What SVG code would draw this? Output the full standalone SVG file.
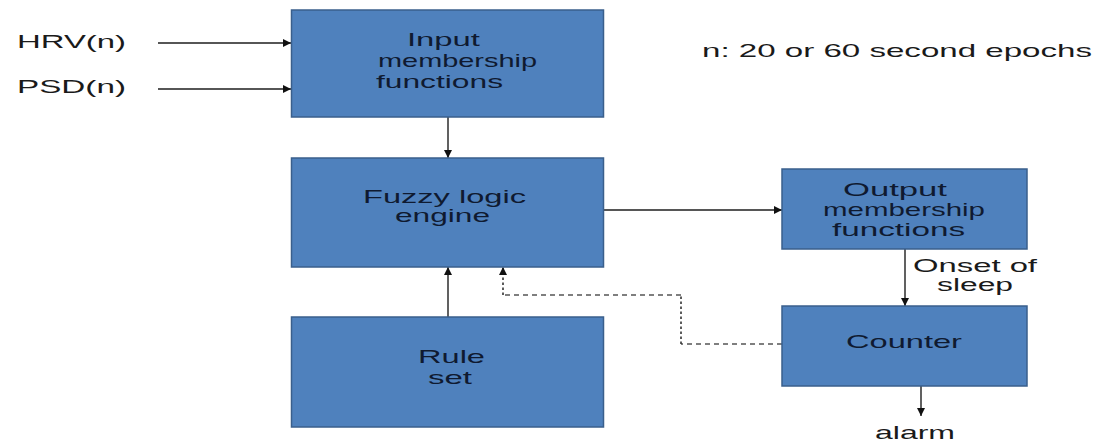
<svg xmlns="http://www.w3.org/2000/svg" width="1095" height="443" viewBox="0 0 1095 443">
  <style>
    .box { fill: #4f81bd; stroke: #3a5f8c; stroke-width: 1.5; }
    .lbl { font-family: "Liberation Sans", Arial, sans-serif; font-size: 18.5px; fill: #0f1a30; }
    .ext { font-family: "Liberation Sans", Arial, sans-serif; font-size: 19px; fill: #1a1a1a; }
    .note { font-family: "Liberation Sans", Arial, sans-serif; font-size: 17.5px; fill: #1a1a1a; }
    .wire { fill: none; stroke: #1e1e1e; stroke-width: 1.4; }
    .dashH { fill: none; stroke: #555; stroke-width: 1.4; stroke-dasharray: 5 4; }
    .dashV { fill: none; stroke: #333; stroke-width: 1.6; stroke-dasharray: 2.5 2.5; }
  </style>
  <defs>
    <marker id="arrow" viewBox="0 0 10 10" refX="10" refY="5" markerWidth="8" markerHeight="8" markerUnits="userSpaceOnUse" orient="auto">
      <path d="M0,0 L10,5 L0,10 z" fill="#111"/>
    </marker>
  </defs>
  <rect width="1095" height="443" fill="#ffffff"/>

  <!-- connectors -->
  <g id="connectors">
    <line class="wire" x1="158" y1="43" x2="291" y2="43" marker-end="url(#arrow)"/>
    <line class="wire" x1="158" y1="89" x2="291" y2="89" marker-end="url(#arrow)"/>
    <line class="wire" x1="448" y1="117" x2="448" y2="158" marker-end="url(#arrow)"/>
    <line class="wire" x1="448" y1="317" x2="448" y2="267" marker-end="url(#arrow)"/>
    <line class="wire" x1="603" y1="210" x2="782" y2="210" marker-end="url(#arrow)"/>
    <line class="wire" x1="905" y1="249" x2="905" y2="306" marker-end="url(#arrow)"/>
    <line class="wire" x1="921" y1="386" x2="921" y2="416" marker-end="url(#arrow)"/>
    <!-- dashed feedback from counter to engine -->
    <path class="dashH" d="M782,344 L681,344"/>
    <path class="dashV" d="M681,344 L681,295"/>
    <path class="dashH" d="M681,295 L503,295"/>
    <path class="dashV" d="M503,295 L503,267" marker-end="url(#arrow)"/>
  </g>

  <g id="input-membership">
    <rect class="box" x="291.5" y="10" width="312" height="107"/>
    <text class="lbl" x="407" y="46" textLength="73" lengthAdjust="spacingAndGlyphs">Input</text>
    <text class="lbl" x="378" y="67" textLength="159" lengthAdjust="spacingAndGlyphs">membership</text>
    <text class="lbl" x="376" y="88" textLength="127" lengthAdjust="spacingAndGlyphs">functions</text>
  </g>

  <g id="fuzzy-engine">
    <rect class="box" x="291.5" y="158" width="312" height="109"/>
    <text class="lbl" x="363" y="203" textLength="163" lengthAdjust="spacingAndGlyphs">Fuzzy logic</text>
    <text class="lbl" x="395" y="222" textLength="95" lengthAdjust="spacingAndGlyphs">engine</text>
  </g>

  <g id="rule-set">
    <rect class="box" x="291.5" y="317" width="312" height="110"/>
    <text class="lbl" x="418" y="363" textLength="67" lengthAdjust="spacingAndGlyphs">Rule</text>
    <text class="lbl" x="428" y="384" textLength="44" lengthAdjust="spacingAndGlyphs">set</text>
  </g>

  <g id="output-membership">
    <rect class="box" x="782" y="169" width="245" height="80"/>
    <text class="lbl" x="843" y="196" textLength="104" lengthAdjust="spacingAndGlyphs">Output</text>
    <text class="lbl" x="823" y="216" textLength="162" lengthAdjust="spacingAndGlyphs">membership</text>
    <text class="lbl" x="832" y="236" textLength="133" lengthAdjust="spacingAndGlyphs">functions</text>
  </g>

  <g id="counter">
    <rect class="box" x="782" y="306" width="245" height="80"/>
    <text class="lbl" x="846" y="348" textLength="116" lengthAdjust="spacingAndGlyphs">Counter</text>
  </g>

  <g id="labels">
    <text class="ext" x="17" y="48" textLength="109" lengthAdjust="spacingAndGlyphs">HRV(n)</text>
    <text class="ext" x="17" y="93" textLength="109" lengthAdjust="spacingAndGlyphs">PSD(n)</text>
    <text class="ext" x="702" y="57" textLength="390" lengthAdjust="spacingAndGlyphs">n: 20 or 60 second epochs</text>
    <text class="note" x="913" y="272" textLength="124" lengthAdjust="spacingAndGlyphs">Onset of</text>
    <text class="note" x="937" y="291" textLength="76" lengthAdjust="spacingAndGlyphs">sleep</text>
    <text class="ext" x="875" y="439" textLength="80" lengthAdjust="spacingAndGlyphs">alarm</text>
  </g>
</svg>
